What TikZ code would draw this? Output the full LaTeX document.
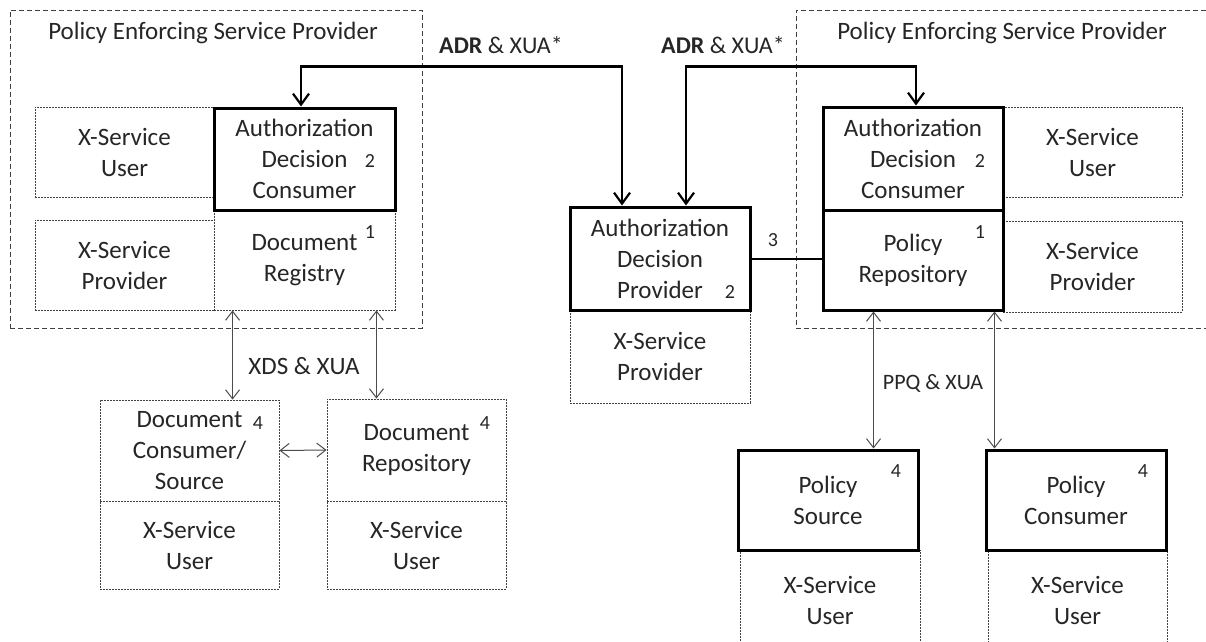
\documentclass[tikz,border=0pt]{standalone}
\usepackage{fontspec}
\setmainfont{Carlito}
\usetikzlibrary{arrows.meta,calc}
\begin{document}
\begin{tikzpicture}[x=1pt,y=-1pt,
  txt/.style={inner sep=0pt,align=center,font=\fontsize{25}{31}\selectfont,text=black!85},
  box/.style={txt,rectangle,fill=white},
  finebox/.style={box,draw=black!75,line width=0.9pt,dash pattern=on 2pt off 1pt},
  boldbox/.style={box,draw=black,line width=3pt},
  outerbox/.style={rectangle,inner sep=0pt,draw=black!75,line width=1pt,dash pattern=on 5pt off 3pt},
  num/.style={inner sep=0pt,font=\fontsize{20}{24}\selectfont,text=black!85},
  lbl/.style={inner sep=0pt,font=\fontsize{24}{30}\selectfont,text=black!85},
  adr/.style={line width=2.2pt,draw=black,>={Straight Barb[length=11pt,width=16pt]},<->},
  dbl/.style={line width=1pt,draw=black!70,>={Straight Barb[length=9pt,width=14pt]},<->}
]
\useasboundingbox (0,0) rectangle (1206,641);
\fill[white] (0,0) rectangle (1206,641);
\clip (0,0) rectangle (1206,641);

% outer containers
\node[outerbox,minimum width=412pt,minimum height=318pt] (pespL) at (216,169) {};
\node[outerbox,minimum width=434pt,minimum height=318pt] (pespR) at (1013,169) {};
\node[lbl,font=\fontsize{25}{31}\selectfont] (titleL) at (213,33) {Policy Enforcing Service Provider};
\node[lbl,font=\fontsize{25}{31}\selectfont] (titleR) at (1002,33) {Policy Enforcing Service Provider};

% fine dashed boxes
\node[finebox,minimum width=179pt,minimum height=90pt] (xsuL) at (124.5,152) {X-Service\\User};
\node[finebox,minimum width=179pt,minimum height=90pt] (xspL) at (124.5,265) {X-Service\\Provider};
\node[finebox,minimum width=181pt,minimum height=100pt] (regL) at (304.5,260) {Document\\Registry};
\node[finebox,minimum width=180pt,minimum height=93pt] (xspM) at (660,356.5) {X-Service\\Provider};
\node[finebox,minimum width=179pt,minimum height=90pt] (xsuR) at (1092.5,152) {X-Service\\User};
\node[finebox,minimum width=179pt,minimum height=91pt] (xspR) at (1092.5,266.5) {X-Service\\Provider};
\node[finebox,minimum width=179pt,minimum height=101pt] (dcs) at (189.5,450.5) {Document\\Consumer/\\Source};
\node[finebox,minimum width=179pt,minimum height=88pt] (xsuD1) at (189.5,545) {X-Service\\User};
\node[finebox,minimum width=179pt,minimum height=102pt] (drep) at (416.5,450) {Document\\Repository};
\node[finebox,minimum width=179pt,minimum height=88pt] (xsuD2) at (416.5,545) {X-Service\\User};
\node[finebox,minimum width=180pt,minimum height=100pt] (xsuP1) at (830,600) {X-Service\\User};
\node[finebox,minimum width=179pt,minimum height=100pt] (xsuP2) at (1077.5,600) {X-Service\\User};

% bold boxes
\node[boldbox,minimum width=181pt,minimum height=102pt] (adcL) at (304.5,159) {Authorization\\Decision\\Consumer};
\node[boldbox,minimum width=180pt,minimum height=103pt] (adp) at (660,258.5) {Authorization\\Decision\\Provider};
\node[boldbox,minimum width=180pt,minimum height=103pt] (adcR) at (913,158.5) {Authorization\\Decision\\Consumer};
\node[boldbox,minimum width=180pt,minimum height=100pt] (prep) at (913,260) {Policy\\Repository};
\node[boldbox,minimum width=180pt,minimum height=100pt] (psrc) at (828,500) {Policy\\Source};
\node[boldbox,minimum width=180pt,minimum height=100pt] (pcon) at (1076,500) {Policy\\Consumer};

% numbers
\node[num] (nAdcL) at (370,161) {2};
\node[num] (nRegL) at (370,232) {1};
\node[num] (nAdp) at (730,292) {2};
\node[num] (nThree) at (773,240) {3};
\node[num] (nAdcR) at (980,161) {2};
\node[num] (nPrep) at (980,232) {1};
\node[num] (nDcs) at (258,423) {4};
\node[num] (nDrep) at (485,423) {4};
\node[num] (nPsrc) at (896,471) {4};
\node[num] (nPcon) at (1143,471) {4};

% ADR connectors
\draw[adr] ([xshift=-3.5pt]adcL.north) -- ++(0,-40) -| ([xshift=-38pt]adp.north);
\draw[adr] ([xshift=26pt]adp.north) -- ++(0,-139) -| ([xshift=3pt]adcR.north);
\node[lbl] (adrL) at (501,45) {\textbf{ADR} \& XUA*};
\node[lbl] (adrR) at (723,45) {\textbf{ADR} \& XUA*};

% ADP to policy repository
\draw[line width=2pt] (adp.east) -- (adp.east -| prep.west);

% XDS connectors
\coordinate (c1) at ([xshift=19pt]regL.south west);
\coordinate (c2) at ([xshift=-19pt]regL.south east);
\draw[dbl] (c1) -- (c1 |- dcs.north);
\draw[dbl] (c2) -- (c2 |- drep.north);
\draw[dbl] (dcs.east) -- (drep.west);
\node[lbl,font=\fontsize{25}{31}\selectfont] (xds) at (304,366) {XDS \& XUA};

% PPQ connectors
\coordinate (c3) at ([xshift=52pt]prep.south west);
\coordinate (c4) at ([xshift=-10pt]prep.south east);
\draw[dbl] (c3) -- (c3 |- psrc.north);
\draw[dbl] (c4) -- (c4 |- pcon.north);
\node[lbl,font=\fontsize{22}{28}\selectfont] (ppq) at (933,383) {PPQ \& XUA};
\end{tikzpicture}
\end{document}
